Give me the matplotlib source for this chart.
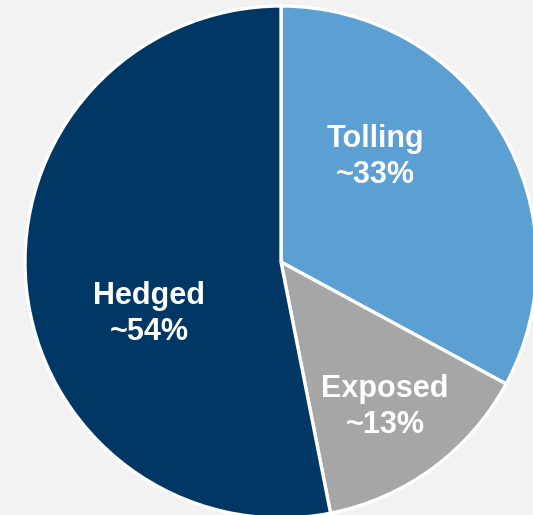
import matplotlib
matplotlib.use("Agg")
from matplotlib import pyplot as plt

# data
categorias = ["Tolling", "Exposed", "Hedged"]
cuotas = [32.9, 14.0, 53.1]
etiquetas = ["~33%", "~13%", "~54%"]
colores = ["#5B9FD3", "#A6A6A6", "#003764"]

fig = plt.figure(figsize=(5.33, 5.15), dpi=100)
fig.patch.set_facecolor("#F2F2F2")
ax = fig.add_axes([0, 0, 1, 1])
ax.set_facecolor("#F2F2F2")

ax.pie(cuotas, colors=colores, startangle=90, counterclock=False,
       center=(281, 253), radius=256,
       wedgeprops=dict(edgecolor="white", linewidth=2.4))

ax.set_xlim(0, 533)
ax.set_ylim(0, 515)
ax.set_aspect("equal")
ax.axis("off")

# posiciones de las etiquetas
posiciones = [(375, 358), (385, 108), (149, 201)]
for cat, et, (x, y) in zip(categorias, etiquetas, posiciones):
    ax.text(x, y, f"{cat}\n{et}", color="white", fontsize=22,
            fontweight="bold", family="Liberation Sans",
            ha="center", va="center", linespacing=1.3)

fig.savefig("out.png", dpi=100, facecolor=fig.get_facecolor())
